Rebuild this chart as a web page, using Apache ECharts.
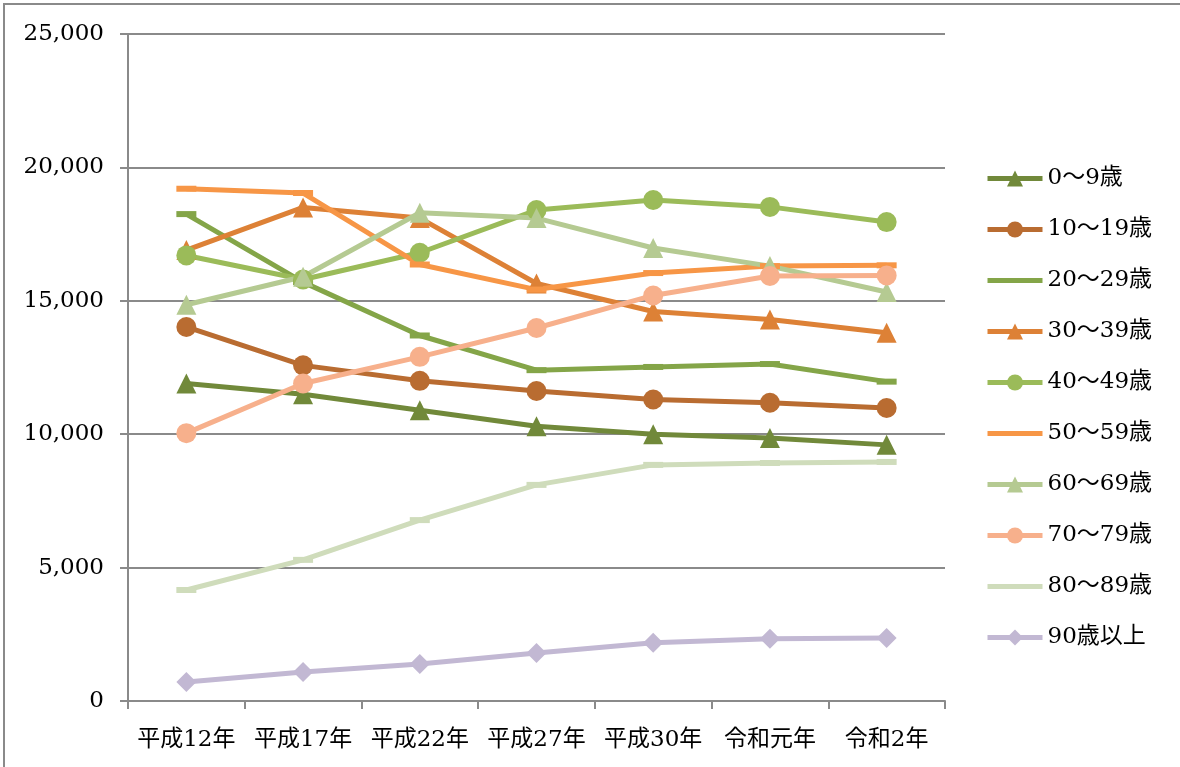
<!DOCTYPE html>
<html>
<head>
<meta charset="utf-8">
<script src="https://cdn.jsdelivr.net/npm/echarts@6/dist/echarts.min.js"></script>
<style>
  html, body { margin: 0; padding: 0; background: #fff; }
  #frame { position: absolute; left: 3px; top: 3px; width: 1300px; height: 900px;
           border-top: 2px solid #8a8a8a; border-left: 2px solid #8a8a8a; }
  #chart { position: absolute; left: 0; top: 0; width: 1180px; height: 767px; }
</style>
</head>
<body>
<div id="frame"></div>
<div id="chart"></div>
<script>
// カテゴリ
const categories = ['平成12年', '平成17年', '平成22年', '平成27年', '平成30年', '令和元年', '令和2年'];

// 年齢階級別の値
const age0_9   = [11900, 11500, 10900, 10300, 10000, 9860, 9600];
const age10_19 = [14020, 12580, 12000, 11620, 11300, 11180, 10980];
const age20_29 = [18250, 15700, 13700, 12400, 12520, 12630, 11970];
const age30_39 = [16900, 18500, 18100, 15650, 14600, 14300, 13800];
const age40_49 = [16700, 15800, 16800, 18400, 18780, 18520, 17950];
const age50_59 = [19200, 19040, 16360, 15420, 16040, 16300, 16330];
const age60_69 = [14850, 15900, 18300, 18100, 16980, 16300, 15330];
const age70_79 = [10040, 11900, 12900, 13980, 15200, 15930, 15950];
const age80_89 = [4160, 5290, 6780, 8100, 8850, 8920, 8960];
const age90up  = [710, 1090, 1390, 1800, 2180, 2330, 2360];

const seriesNames = ['0～9歳', '10～19歳', '20～29歳', '30～39歳', '40～49歳', '50～59歳', '60～69歳', '70～79歳', '80～89歳', '90歳以上'];
const seriesValues = [age0_9, age10_19, age20_29, age30_39, age40_49, age50_59, age60_69, age70_79, age80_89, age90up];

// y軸
const yMin = 0;
const yMax = 25000;
const yStep = 5000;

const colors = ['#71893a', '#b96c31', '#84a548', '#dd8136', '#9bbb59', '#f79646', '#b5ca92', '#f7b08c', '#cfdcbb', '#c2b8d3'];
const symbols = ['triangle', 'circle', 'rect', 'triangle', 'circle', 'rect', 'triangle', 'circle', 'rect', 'diamond'];

const fontFamily = "'DejaVu Serif', 'Noto Sans CJK JP', serif";

const chart = echarts.init(document.getElementById('chart'));

const option = {
  animation: false,
  textStyle: { fontFamily: fontFamily },
  grid: { left: 128, right: 235, top: 34, bottom: 66 },
  legend: {
    orient: 'vertical',
    left: 980,
    top: 162,
    itemWidth: 55,
    itemHeight: 20,
    itemGap: 28,
    lineStyle: { width: 5 },
    textStyle: { fontFamily: fontFamily, fontSize: 23, color: '#000' },
    // 線のみの系列は凡例で記号を隠す
    data: seriesNames.map((name, i) => symbols[i] === 'rect'
      ? { name: name, itemStyle: { opacity: 0 } }
      : { name: name })
  },
  xAxis: {
    type: 'category',
    data: categories,
    boundaryGap: true,
    axisLine: { lineStyle: { color: '#8a8a8a', width: 2 } },
    axisTick: { show: true, interval: 0, length: 8, lineStyle: { color: '#8a8a8a', width: 2 } },
    axisLabel: { interval: 0, color: '#000', fontSize: 23, margin: 28, fontFamily: fontFamily }
  },
  yAxis: {
    type: 'value',
    min: yMin,
    max: yMax,
    interval: yStep,
    axisLine: { show: true, lineStyle: { color: '#8a8a8a', width: 2 } },
    axisTick: { show: true, length: 8, lineStyle: { color: '#8a8a8a', width: 2 } },
    axisLabel: {
      color: '#000', fontSize: 23, margin: 24, fontFamily: fontFamily,
      formatter: v => v.toLocaleString('en-US')
    },
    splitLine: { lineStyle: { color: '#8a8a8a', width: 2 } }
  },
  series: seriesNames.map((name, i) => ({
    name: name,
    type: 'line',
    data: seriesValues[i],
    symbol: symbols[i],
    symbolSize: symbols[i] === 'rect' ? [20, 6] : 20,
    showAllSymbol: true,
    lineStyle: { color: colors[i], width: 5 },
    itemStyle: { color: colors[i] },
    emphasis: { disabled: true }
  }))
};

chart.setOption(option);
</script>
</body>
</html>
